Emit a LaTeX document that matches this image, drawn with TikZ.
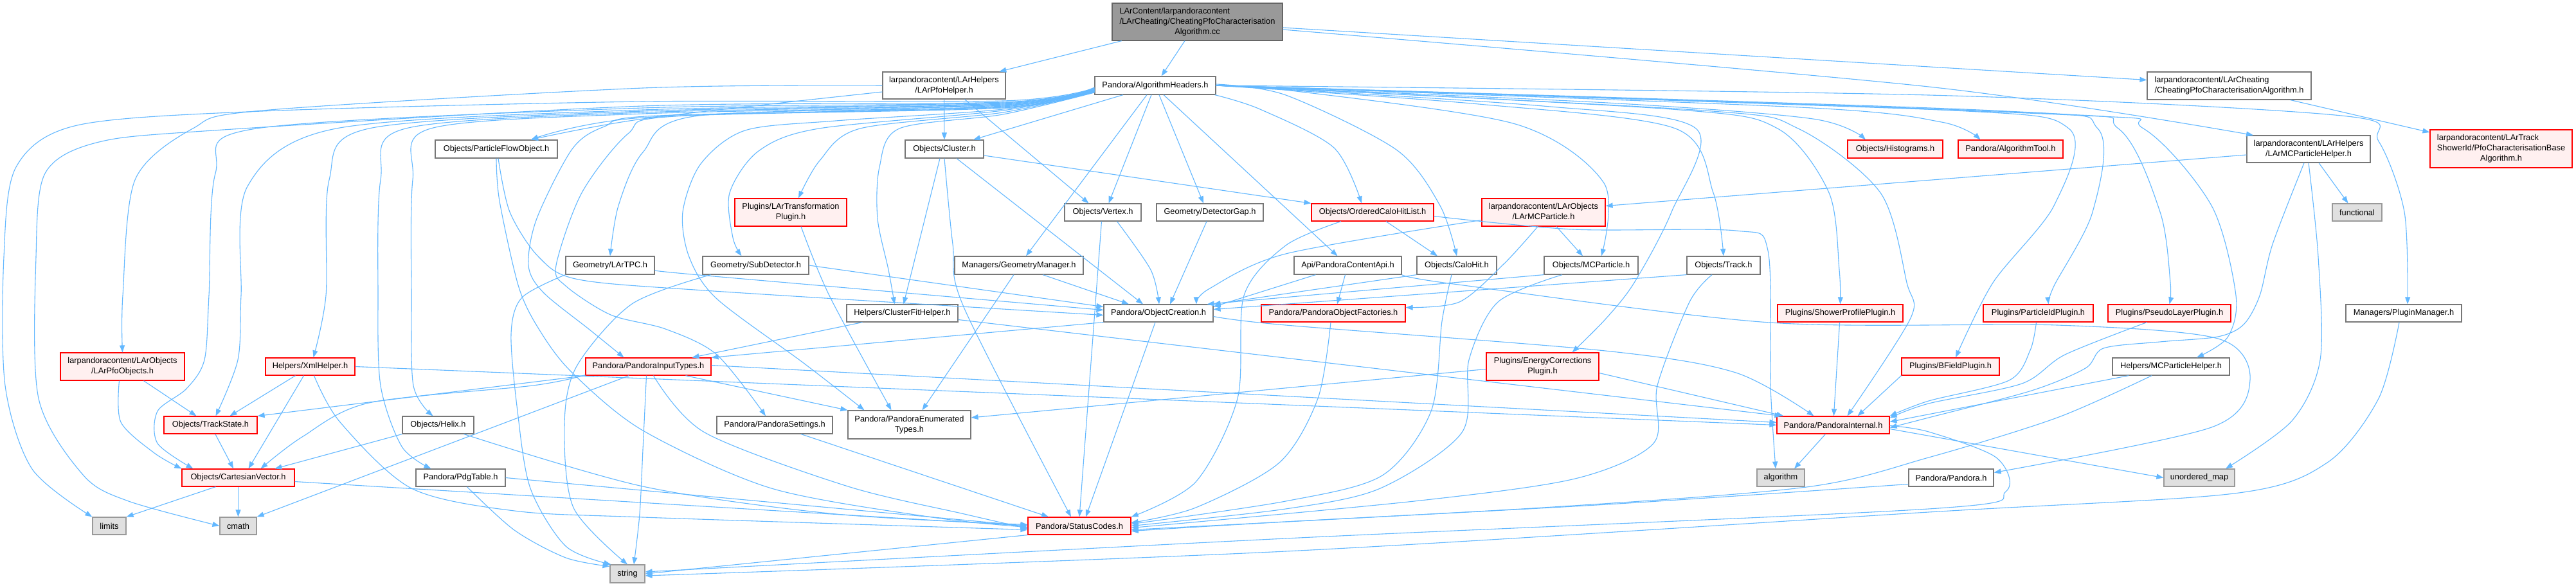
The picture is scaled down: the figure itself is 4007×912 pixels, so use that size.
\documentclass[tikz,border=0pt]{standalone}
\usepackage{fontspec}
\setmainfont{Liberation Sans}
\usetikzlibrary{arrows.meta}
\definecolor{edgeblue}{HTML}{63B8FF}
\definecolor{nodegray}{HTML}{777777}
\definecolor{pinkfill}{HTML}{FFF0F0}
\definecolor{extgray}{HTML}{999999}
\definecolor{extfill}{HTML}{E0E0E0}
\definecolor{mainfill}{HTML}{999999}
\definecolor{maingray}{HTML}{666666}
\newcommand{\twoline}[2]{\begin{tabular}{@{}l@{}}#1\\\multicolumn{1}{@{}c@{}}{#2}\end{tabular}}
\newcommand{\threeline}[3]{\begin{tabular}{@{}l@{}}#1\\#2\\\multicolumn{1}{@{}c@{}}{#3}\end{tabular}}
\newcommand{\gnode}[7]{\node[#1, minimum width={#5pt-#3pt}, minimum height={#6pt-#4pt}] (#2) at ({(#3+#5)/2},{(#4+#6)/2}) {#7};}
\tikzset{
 nbase/.style={draw, line width=1.2pt, inner sep=0pt, font=\fontsize{12.8}{16}\selectfont, text=black},
 wbox/.style={nbase, draw=nodegray, fill=white},
 rbox/.style={nbase, draw=red, fill=pinkfill},
 gbox/.style={nbase, draw=extgray, fill=extfill},
 mbox/.style={nbase, draw=maingray, fill=mainfill},
 dep/.style={draw=edgeblue, line width=1.1pt, -{Triangle[length=11pt,width=8pt]}},
}
\begin{document}
\begin{tikzpicture}[x=1pt,y=-1pt]
\fill[white, use as bounding box] (0,0) rectangle (4007,912);
% ---------------- nodes ----------------
\gnode{mbox}{main}{1730}{5}{1995}{63}{\threeline{LArContent/larpandoracontent}{/LArCheating/CheatingPfoCharacterisation}{Algorithm.cc}}
\gnode{wbox}{AH}{1703}{119}{1891}{147}{Pandora/AlgorithmHeaders.h}
\gnode{wbox}{PfoH}{1373}{112}{1564}{154}{\twoline{larpandoracontent/LArHelpers}{/LArPfoHelper.h}}
\gnode{wbox}{CheatH}{3340}{112}{3595}{155}{\twoline{larpandoracontent/LArCheating}{/CheatingPfoCharacterisationAlgorithm.h}}
\gnode{wbox}{MCPH}{3495}{211}{3687}{253}{\twoline{larpandoracontent/LArHelpers}{/LArMCParticleHelper.h}}
\gnode{rbox}{PfoCB}{3780}{202}{4001}{261}{\threeline{larpandoracontent/LArTrack}{ShowerId/PfoCharacterisationBase}{Algorithm.h}}
\gnode{wbox}{PFO}{677}{218}{867}{246}{Objects/ParticleFlowObject.h}
\gnode{wbox}{Cluster}{1408}{218}{1530}{246}{Objects/Cluster.h}
\gnode{rbox}{Hist}{2874}{218}{3022}{246}{Objects/Histograms.h}
\gnode{rbox}{AlgTool}{3046}{218}{3209}{246}{Pandora/AlgorithmTool.h}
\gnode{rbox}{LArTrans}{1143}{309}{1317}{352}{\twoline{Plugins/LArTransformation}{Plugin.h}}
\gnode{wbox}{Vertex}{1656}{317}{1775}{344}{Objects/Vertex.h}
\gnode{wbox}{DetGap}{1799}{317}{1965}{344}{Geometry/DetectorGap.h}
\gnode{rbox}{OCHL}{2040}{317}{2230}{344}{Objects/OrderedCaloHitList.h}
\gnode{rbox}{LArMCP}{2305}{309}{2497}{352}{\twoline{larpandoracontent/LArObjects}{/LArMCParticle.h}}
\gnode{gbox}{functional}{3628}{317}{3705}{344}{functional}
\gnode{wbox}{LArTPC}{880}{399}{1018}{427}{Geometry/LArTPC.h}
\gnode{wbox}{SubDet}{1093}{399}{1258}{427}{Geometry/SubDetector.h}
\gnode{wbox}{GeomMgr}{1485}{399}{1685}{427}{Managers/GeometryManager.h}
\gnode{wbox}{PCApi}{2013}{399}{2180}{427}{Api/PandoraContentApi.h}
\gnode{wbox}{CaloHit}{2204}{399}{2328}{427}{Objects/CaloHit.h}
\gnode{wbox}{MCP}{2402}{399}{2548}{427}{Objects/MCParticle.h}
\gnode{wbox}{Track}{2624}{399}{2738}{427}{Objects/Track.h}
\gnode{wbox}{CFH}{1317}{474}{1490}{501}{Helpers/ClusterFitHelper.h}
\gnode{wbox}{ObjCr}{1717}{474}{1887}{501}{Pandora/ObjectCreation.h}
\gnode{rbox}{POF}{1962}{474}{2186}{501}{Pandora/PandoraObjectFactories.h}
\gnode{rbox}{SPP}{2765}{474}{2960}{501}{Plugins/ShowerProfilePlugin.h}
\gnode{rbox}{PIDP}{3085}{474}{3256}{501}{Plugins/ParticleIdPlugin.h}
\gnode{rbox}{PLP}{3279}{474}{3470}{501}{Plugins/PseudoLayerPlugin.h}
\gnode{wbox}{PlugMgr}{3649}{474}{3829}{501}{Managers/PluginManager.h}
\gnode{rbox}{PfoObj}{94}{549}{287}{592}{\twoline{larpandoracontent/LArObjects}{/LArPfoObjects.h}}
\gnode{rbox}{Energy}{2312}{549}{2487}{592}{\twoline{Plugins/EnergyCorrections}{Plugin.h}}
\gnode{rbox}{Xml}{413}{557}{552}{584}{Helpers/XmlHelper.h}
\gnode{rbox}{PIT}{911}{557}{1106}{584}{Pandora/PandoraInputTypes.h}
\gnode{rbox}{BField}{2958}{557}{3110}{584}{Plugins/BFieldPlugin.h}
\gnode{wbox}{MCPHelp}{3286}{557}{3468}{584}{Helpers/MCParticleHelper.h}
\gnode{rbox}{TS}{255}{648}{400}{675}{Objects/TrackState.h}
\gnode{wbox}{Helix}{626}{648}{737}{675}{Objects/Helix.h}
\gnode{wbox}{PSet}{1115}{648}{1295}{675}{Pandora/PandoraSettings.h}
\gnode{wbox}{PET}{1319}{639}{1510}{683}{\twoline{Pandora/PandoraEnumerated}{Types.h}}
\gnode{rbox}{PI}{2764}{648}{2939}{675}{Pandora/PandoraInternal.h}
\gnode{rbox}{CV}{283}{730}{458}{757}{Objects/CartesianVector.h}
\gnode{wbox}{Pdg}{647}{730}{786}{757}{Pandora/PdgTable.h}
\gnode{gbox}{algorithm}{2733}{730}{2807}{757}{algorithm}
\gnode{wbox}{Pandora}{2969}{730}{3101}{757}{Pandora/Pandora.h}
\gnode{gbox}{umap}{3366}{730}{3476}{757}{unordered\_map}
\gnode{gbox}{limits}{144}{805}{196}{832}{limits}
\gnode{gbox}{cmath}{342}{805}{399}{832}{cmath}
\gnode{rbox}{SC}{1599}{805}{1759}{832}{Pandora/StatusCodes.h}
\gnode{gbox}{string}{949}{879}{1003}{907}{string}
% ---------------- edges: main ----------------
\draw[dep] (main) -- (PfoH);
\draw[dep] (main) -- (AH);
\draw[dep] ([yshift=-9pt]main.east) -- ([yshift=9pt]CheatH.west);
\draw[dep] plot[smooth] coordinates {([yshift=-12pt]main.east) (3000,135) ([xshift=-86pt]MCPH.north)};
\draw[dep] (CheatH) -- (PfoCB);
% ---------------- PfoHelper ----------------
\draw[dep] (PfoH) -- (Cluster);
\draw[dep] ([xshift=32pt]PfoH.south) -- ([xshift=-22pt]Vertex.north);
\draw[dep] plot[smooth] coordinates {(PfoH.west) (1000,137) (408,172) (300,200) (210,280) (191,460) (PfoObj.north)};
\draw[dep] plot[smooth] coordinates {([yshift=-10pt]PfoH.west) (1000,185) ([xshift=54pt]PFO.north)};
% ---------------- AlgorithmHeaders, left ----------------
\draw[dep] plot[smooth] coordinates {([yshift=-4pt]AH.west) (1560,157) (1000,158) (408,173) (120,195) (25,260) (6,400) (8,600) (50,730) (limits.north west)};
\draw[dep] plot[smooth] coordinates {([yshift=-5pt]AH.west) (1560,159) (1000,165) (332,203) (150,222) (70,270) (56,400) (60,620) (130,740) (200,780) (cmath.west)};
\draw[dep] plot[smooth] coordinates {([yshift=-5pt]AH.west) (1560,160) (1000,168) (399,200) (335,270) (325,460) (318,560) (290,605) (245,640) (245,690) ([xshift=-70pt]CV.north)};
\draw[dep] plot[smooth] coordinates {([yshift=-6pt]AH.west) (1560,161) (1000,171) (523,200) (385,290) (375,460) (370,560) ([xshift=8pt]TS.north)};
\draw[dep] plot[smooth] coordinates {([yshift=-6pt]AH.west) (1560,162) (1000,173) (574,200) (512,280) (507,460) ([xshift=5pt]Xml.north)};
\draw[dep] plot[smooth] coordinates {([yshift=-7pt]AH.west) (1560,163) (1000,175) (631,200) (592,280) (588,460) (592,600) (625,695) ([xshift=-46pt]Pdg.north)};
\draw[dep] plot[smooth] coordinates {([yshift=-7pt]AH.west) (1560,164) (1000,177) (670,200) (642,280) (640,460) (643,600) ([xshift=-8pt]Helix.north)};
\draw[dep] plot[smooth] coordinates {([yshift=-3pt]AH.west) (1560,165) (1000,183) ([xshift=54pt]PFO.north)};
\draw[dep] plot[smooth] coordinates {([yshift=-8pt]AH.west) (1560,166) (1087,180) (1000,237) (962,320) (LArTPC.north)};
\draw[dep] plot[smooth] coordinates {([yshift=-8pt]AH.west) (1560,167) (1023,180) (940,197) (890,232) (835,340) (822,413) (845,455) (917,513) ([xshift=-38pt]PIT.north)};
\draw[dep] plot[smooth] coordinates {([yshift=-9pt]AH.west) (1560,168) (1050,181) (977,208) (905,300) (865,413) (880,445) (950,490) (1035,512) (1115,552) ([xshift=-14pt]PSet.north)};
\draw[dep] plot[smooth] coordinates {([yshift=-9pt]AH.west) (1560,170) (1300,188) (1159,203) (1090,255) (1062,330) (1072,400) (1115,465) (1250,565) ([xshift=-70pt]PET.north)};
\draw[dep] plot[smooth] coordinates {([yshift=-10pt]AH.west) (1560,172) (1274,200) (1180,235) (1135,300) (1140,370) ([xshift=-22pt]SubDet.north)};
\draw[dep] plot[smooth] coordinates {([yshift=-10pt]AH.west) (1560,175) (1338,200) (1275,250) ([xshift=12pt]LArTrans.north)};
\draw[dep] plot[smooth] coordinates {([yshift=-11pt]AH.west) (1560,178) (1399,200) (1368,260) (1365,340) (1382,420) ([xshift=-12pt]CFH.north)};
% ---------------- AlgorithmHeaders, below ----------------
\draw[dep] ([xshift=-50pt]AH.south) -- ([xshift=45pt]Cluster.north);
\draw[dep] ([xshift=-6pt]AH.south) -- ([xshift=9pt]Vertex.north);
\draw[dep] ([xshift=-13pt]AH.south) -- ([xshift=11pt]GeomMgr.north);
\draw[dep] ([xshift=6pt]AH.south) -- ([xshift=-10pt]DetGap.north);
\draw[dep] ([xshift=13pt]AH.south) -- ([xshift=-16pt]PCApi.north);
\draw[dep] plot[smooth] coordinates {([xshift=-2pt]AH.south east) (1960,170) (2075,230) ([xshift=-17pt]OCHL.north)};
% ---------------- AlgorithmHeaders, right ----------------
\draw[dep] plot[smooth] coordinates {([yshift=2pt]AH.east) (2000,148) (2172,233) (2240,320) (CaloHit.north)};
\draw[dep] plot[smooth] coordinates {(AH.east) (2000,140) (2357,193) (2495,285) ([xshift=16pt]MCP.north)};
\draw[dep] plot[smooth] coordinates {(AH.east) (2300,162) (2606,200) (2665,300) (Track.north)};
\draw[dep] plot[smooth] coordinates {(AH.east) (2400,165) (2638,200) (2600,330) (2542,440) (2497,497) ([xshift=46pt]Energy.north)};
\draw[dep] plot[smooth] coordinates {(AH.east) (2500,160) (2820,185) ([xshift=-46pt]Hist.north)};
\draw[dep] plot[smooth] coordinates {(AH.east) (2600,170) (2765,200) (2845,300) (2861,420) (SPP.north)};
\draw[dep] plot[smooth] coordinates {(AH.east) (2650,172) (2797,200) (2925,300) (2966,440) (2972,495) ([xshift=22pt]PI.north)};
\draw[dep] plot[smooth] coordinates {(AH.east) (2800,167) (3020,190) ([xshift=-47pt]AlgTool.north)};
\draw[dep] plot[smooth] coordinates {(AH.east) (3000,170) (3218,200) (3195,320) (3100,440) ([xshift=8pt]BField.north)};
\draw[dep] plot[smooth] coordinates {(AH.east) (3100,172) (3263,200) (3255,330) (3195,445) ([xshift=16pt]PIDP.north)};
\draw[dep] plot[smooth] coordinates {(AH.east) (3150,175) (3295,200) (3360,330) (3376,440) (PLP.north)};
\draw[dep] plot[smooth] coordinates {(AH.east) (3200,178) (3334,200) (3440,320) (3478,460) (3465,525) ([xshift=40pt]MCPHelp.north)};
\draw[dep] plot[smooth] coordinates {(AH.east) (3000,148) (3642,180) (3700,220) (3740,330) ([xshift=6pt]PlugMgr.north)};
% ---------------- Cluster, Vertex, DetectorGap, GeometryManager, LArTransformation ----------------
\draw[dep] ([xshift=-7pt]Cluster.south) -- ([xshift=2pt]CFH.north);
\draw[dep] plot[smooth] coordinates {(Cluster.south) (1482,380) (1500,480) ([xshift=-13pt]SC.north)};
\draw[dep] ([xshift=19pt]Cluster.south) -- ([xshift=-24pt]ObjCr.north);
\draw[dep] ([yshift=-10pt]Cluster.east) -- (OCHL.north west);
\draw[dep] ([xshift=-2pt]Vertex.south) -- (SC.north);
\draw[dep] plot[smooth] coordinates {([xshift=22pt]Vertex.south) (1790,420) ([xshift=1pt]ObjCr.north)};
\draw[dep] ([xshift=-5pt]DetGap.south) -- ([xshift=18pt]ObjCr.north);
\draw[dep] ([xshift=-8pt]GeomMgr.south) -- ([xshift=20pt]PET.north);
\draw[dep] ([xshift=37pt]GeomMgr.south) -- ([xshift=-46pt]ObjCr.north);
\draw[dep] plot[smooth] coordinates {([xshift=16pt]LArTrans.south) (1290,460) ([xshift=-28pt]PET.north)};
% ---------------- SubDetector, LArTPC, ParticleFlowObject ----------------
\draw[dep] (SubDet.east) -- ([yshift=10pt]ObjCr.west);
\draw[dep] plot[smooth] coordinates {([xshift=-70pt]SubDet.south) (983,473) (897,570) (878,660) (892,790) (string.north)};
\draw[dep] plot[smooth] coordinates {([yshift=-8pt]LArTPC.east) (1110,430) ([yshift=5pt]ObjCr.west)};
\draw[dep] plot[smooth] coordinates {(LArTPC.south west) (812,463) (795,520) (805,640) (825,760) (880,850) ([xshift=2pt]string.north west)};
\draw[dep] plot[smooth] coordinates {([xshift=3pt]PFO.south) (793,330) (838,400) (900,435) (1110,453) ([yshift=-3pt]ObjCr.west)};
\draw[dep] plot[smooth] coordinates {(PFO.south) (777,313) (807,447) (840,515) (890,580) (1000,670) (1200,760) (1450,805) ([yshift=-2pt]SC.west)};
% ---------------- ObjectCreation, ClusterFitHelper, PandoraSettings ----------------
\draw[dep] (ObjCr.south west) -- (PIT.north east);
\draw[dep] ([xshift=-5pt]ObjCr.south) -- ([xshift=10pt]SC.north);
\draw[dep] plot[smooth] coordinates {([yshift=-5pt]ObjCr.east) (2000,506) (2497,546) (2700,580) ([xshift=-30pt]PI.north)};
\draw[dep] ([xshift=-62pt]CFH.south) -- ([xshift=68pt]PIT.north);
\draw[dep] ([yshift=-10pt]CFH.east) -- ([xshift=8pt]PI.north west);
\draw[dep] ([xshift=41pt]PSet.south) -- ([xshift=-48pt]SC.north);
% ---------------- PandoraInputTypes ----------------
\draw[dep] (PIT.south west) -- (TS.north east);
\draw[dep] plot[smooth] coordinates {([yshift=1pt]PIT.south west) (829,600) (574,627) (470,680) ([xshift=35pt]CV.north)};
\draw[dep] ([xshift=-30pt]PIT.south) -- (cmath.north east);
\draw[dep] plot[smooth] coordinates {([xshift=-3pt]PIT.south) (1000,700) (995,800) ([xshift=10pt]string.north)};
\draw[dep] plot[smooth] coordinates {([xshift=8pt]PIT.south) (1096,673) (1319,757) (1500,800) ([yshift=-4pt]SC.west)};
\draw[dep] ([xshift=58pt]PIT.south) -- (PET.north west);
\draw[dep] ([yshift=2pt]PIT.east) -- ([yshift=4pt]PI.west);
% ---------------- XmlHelper, LArPfoObjects, TrackState, Helix ----------------
\draw[dep] ([xshift=-23pt]Xml.south) -- ([xshift=30pt]TS.north);
\draw[dep] ([xshift=-10pt]Xml.south) -- ([xshift=16pt]CV.north);
\draw[dep] plot[smooth] coordinates {([xshift=6pt]Xml.south) (529,657) (640,760) (800,795) (1000,805) ([yshift=-6pt]SC.west)};
\draw[dep] (Xml.east) -- (PI.west);
\draw[dep] plot[smooth] coordinates {([xshift=-5pt]PfoObj.south) (188,657) (240,705) (CV.north west)};
\draw[dep] ([xshift=33pt]PfoObj.south) -- ([xshift=-22pt]TS.north);
\draw[dep] (TS) -- (CV);
\draw[dep] (Helix.south west) -- ([xshift=57pt]CV.north);
\draw[dep] plot[smooth] coordinates {([xshift=40pt]Helix.south) (1000,757) (1300,800) ([yshift=2pt]SC.west)};
% ---------------- CartesianVector, PdgTable, StatusCodes ----------------
\draw[dep] ([xshift=-35pt]CV.south) -- (limits.north east);
\draw[dep] (CV) -- (cmath);
\draw[dep] ([yshift=-6pt]CV.east) -- (SC.west);
\draw[dep] plot[smooth] coordinates {([xshift=10pt]Pdg.south) (800,825) (880,868) ([yshift=-3pt]string.north west)};
\draw[dep] (Pdg.east) -- (SC.west);
\draw[dep] (SC.south west) -- (string.east);
% ---------------- OrderedCaloHitList, PandoraContentApi ----------------
\draw[dep] ([xshift=21pt]OCHL.south) -- ([xshift=-30pt]CaloHit.north);
\draw[dep] plot[smooth] coordinates {([xshift=-49pt]OCHL.south) (2000,382) (1935,460) (1925,620) (1860,750) (SC.north east)};
\draw[dep] plot[smooth] coordinates {([yshift=-6pt]OCHL.east) (2447,357) (2700,359) (2750,390) (2754,600) ([xshift=-8pt]algorithm.north)};
\draw[dep] ([xshift=-50pt]PCApi.south) -- ([yshift=10pt]ObjCr.east);
\draw[dep] ([xshift=-4pt]PCApi.south) -- ([xshift=6pt]POF.north);
\draw[dep] plot[smooth] coordinates {(PCApi.south east) (2261,442) (2753,502) (3200,506) (3450,527) (3500,591) (3440,665) ([yshift=8pt]Pandora.east)};
% ---------------- CaloHit, MCParticle, Track, LArMCParticle, factories ----------------
\draw[dep] (CaloHit.south west) -- (ObjCr.north east);
\draw[dep] plot[smooth] coordinates {([xshift=-8pt]CaloHit.south) (2243,500) (2226,640) (2150,740) (2000,780) ([yshift=3pt]SC.east)};
\draw[dep] (MCP.south west) -- ([xshift=-10pt]ObjCr.north east);
\draw[dep] plot[smooth] coordinates {([xshift=-45pt]MCP.south) (2330,470) (2285,560) (2274,673) (2147,760) (2000,792) (SC.east)};
\draw[dep] (Track.south west) -- ([yshift=6pt]ObjCr.east);
\draw[dep] plot[smooth] coordinates {([xshift=-18pt]Track.south) (2628,470) (2578,600) (2572,690) (2450,745) (2200,780) ([yshift=-3pt]SC.east)};
\draw[dep] plot[smooth] coordinates {([yshift=-12pt]LArMCP.west) (2000,395) (1880,450) ([xshift=59pt]ObjCr.north)};
\draw[dep] plot[smooth] coordinates {([xshift=-9pt]LArMCP.south) (2340,410) (2270,470) ([yshift=9pt]POF.east)};
\draw[dep] ([xshift=20pt]LArMCP.south) -- ([xshift=-13pt]MCP.north);
\draw[dep] plot[smooth] coordinates {([xshift=-4pt]POF.south) (2050,620) (1990,720) (1860,790) ([yshift=5pt]SC.east)};
% ---------------- plugins ----------------
\draw[dep] ([yshift=-4pt]Energy.west) -- ([yshift=11pt]PET.east);
\draw[dep] ([yshift=-10pt]Energy.east) -- ([xshift=11pt]PI.north west);
\draw[dep] (SPP) -- (PI);
\draw[dep] (BField.south west) -- ([xshift=38pt]PI.north);
\draw[dep] plot[smooth] coordinates {([xshift=-3pt]PIDP.south) (3158,545) (3125,592) (3000,624) (PI.north east)};
\draw[dep] plot[smooth] coordinates {([xshift=-35pt]PLP.south) (3212,552) (3145,597) (3000,628) ([yshift=-3pt]PI.north east)};
\draw[dep] ([xshift=-66pt]MCPHelp.south) -- ([yshift=5pt]PI.east);
\draw[dep] plot[smooth] coordinates {([xshift=-30pt]MCPHelp.south) (3200,650) (3000,712) (2810,758) (2400,790) ([yshift=-6pt]SC.east)};
% ---------------- LArMCParticleHelper ----------------
\draw[dep] ([yshift=-9pt]MCPH.west) -- ([yshift=10pt]LArMCP.east);
\draw[dep] ([xshift=16pt]MCPH.south) -- ([xshift=-14pt]functional.north);
\draw[dep] plot[smooth] coordinates {(MCPH.south) (3606,400) (3609,560) (3565,655) ([xshift=41pt]umap.north)};
\draw[dep] plot[smooth] coordinates {([xshift=-7pt]MCPH.south) (3535,380) (3515,460) (3490,505) (3450,524) (3360,532) (3272,542) (3244,573) (3160,608) (3000,650) ([yshift=-4pt]PI.east)};
% ---------------- PandoraInternal, Pandora, PluginManager ----------------
\draw[dep] ([xshift=-12pt]PI.south) -- ([xshift=21pt]algorithm.north);
\draw[dep] ([yshift=-6pt]PI.east) -- (umap.west);
\draw[dep] plot[smooth] coordinates {([yshift=-1pt]PI.east) (3000,672) (3105,712) (3120,765) (3000,792) (2000,838) ([yshift=3pt]string.east)};
\draw[dep] plot[smooth] coordinates {([yshift=-10pt]Pandora.west) (2500,785) (2000,812) ([yshift=-8pt]SC.east)};
\draw[dep] plot[smooth] coordinates {([xshift=-7pt]PlugMgr.south) (3700,620) (3620,720) (3475,768) (3000,797) (2000,858) ([yshift=-3pt]string.east)};
\end{tikzpicture}
\end{document}
